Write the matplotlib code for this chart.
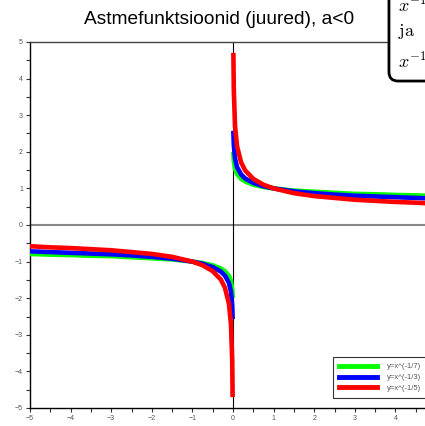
import matplotlib
matplotlib.use('Agg')
import matplotlib.pyplot as plt
from matplotlib.ticker import MultipleLocator
import numpy as np

# x-punktid (positiivne haru) ja pildilt loetud y-väärtused
x_pos = [0.01, 0.02, 0.05, 0.1, 0.2, 0.3, 0.5, 0.75, 1.0, 1.5, 2.0, 2.5, 3.0, 3.5, 4.0, 4.5, 5.0]
y_roheline = [1.93, 1.75, 1.53, 1.39, 1.26, 1.19, 1.10, 1.04, 1.00, 0.94, 0.91, 0.88, 0.85, 0.84, 0.82, 0.81, 0.79]
y_sinine = [2.51, 2.19, 1.82, 1.58, 1.38, 1.27, 1.15, 1.06, 1.00, 0.92, 0.87, 0.83, 0.80, 0.78, 0.76, 0.74, 0.72]
y_punane = [4.64, 3.68, 2.71, 2.15, 1.71, 1.49, 1.26, 1.10, 1.00, 0.87, 0.79, 0.74, 0.69, 0.66, 0.63, 0.61, 0.58]

seeriad = [
    ('y=x^(-1/7)', y_roheline, '#00ff00'),
    ('y=x^(-1/3)', y_sinine, '#0000ff'),
    ('y=x^(-1/5)', y_punane, '#ff0000'),
]

plt.rcParams['font.family'] = ['Liberation Sans', 'DejaVu Sans']
plt.rcParams['mathtext.fontset'] = 'cm'

fig = plt.figure(figsize=(4.25, 4.26), dpi=100)
ax = fig.add_axes([30 / 425, 1 - 408 / 426, 406 / 425, 366 / 426])

ax.axhline(0, color='#888888', lw=1.5, zorder=1)
ax.axvline(0, color='black', lw=0.8, zorder=1)

xp = np.array(x_pos)
for nimi, yv, varv in seeriad:
    yv = np.array(yv)
    ax.plot(xp, yv, color=varv, lw=3.3, label=nimi, zorder=3)
    ax.plot(-xp, -yv, color=varv, lw=3.3, zorder=3)

ax.set_xlim(-5, 5)
ax.set_ylim(-5, 5)
ax.xaxis.set_major_locator(MultipleLocator(1))
ax.xaxis.set_minor_locator(MultipleLocator(0.5))
ax.yaxis.set_major_locator(MultipleLocator(1))
ax.yaxis.set_minor_locator(MultipleLocator(0.5))
ax.tick_params(which='both', direction='out', length=3, width=0.8, colors='#333333',
               labelsize=5, labelcolor='#555555', pad=2)
for s in ['left', 'bottom']:
    ax.spines[s].set_color('black')
    ax.spines[s].set_linewidth(1.0)
ax.spines['top'].set_color('#444444')
ax.spines['top'].set_linewidth(1.0)
ax.spines['right'].set_visible(False)

leg = ax.legend(loc='upper left', bbox_to_anchor=(333 / 425, 1 - 357 / 426),
                bbox_transform=fig.transFigure, fontsize=5.5, frameon=True,
                fancybox=False, edgecolor='black', handlelength=5, handletextpad=1.3,
                labelspacing=0.45, borderpad=0.8, borderaxespad=0)
leg.get_frame().set_linewidth(0.8)
for t in leg.get_texts():
    t.set_color('#555555')
for l in leg.get_lines():
    l.set_linewidth(3.5)

fig.text(219 / 425, 1 - 20 / 426, 'Astmefunktsioonid (juured), a<0',
         ha='center', va='center', fontsize=13.8)

fig.text(398 / 425, 1 - 72 / 426, '$x^{-1/7}$\n$\\mathrm{ja}$\n$x^{-1/3}$',
         ha='left', va='bottom', fontsize=13, linespacing=1.45,
         bbox=dict(boxstyle='round,pad=0.5', fc='white', ec='black', lw=2))

plt.savefig('out.png', dpi=100)
